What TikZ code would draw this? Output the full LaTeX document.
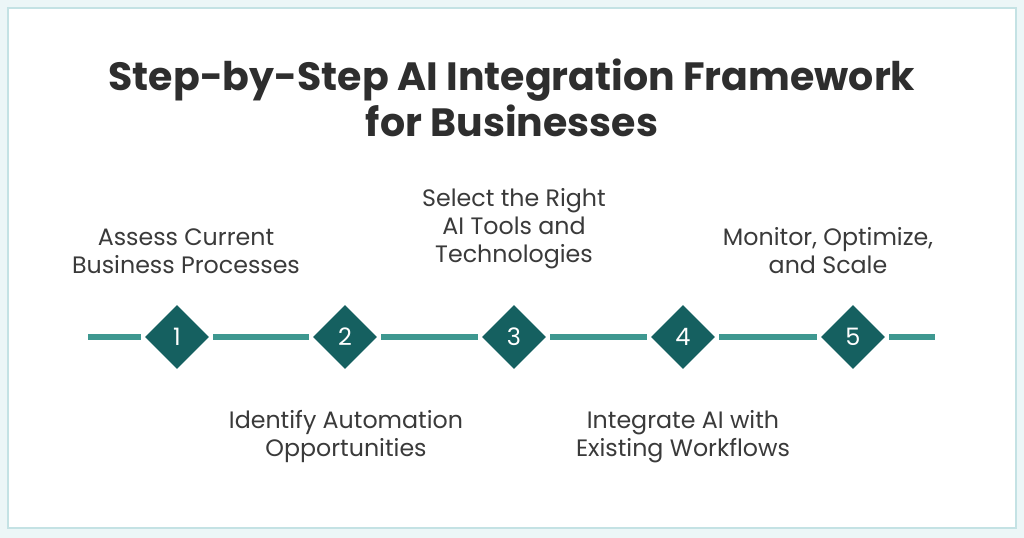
\documentclass[tikz,border=0pt]{standalone}
\usepackage{fontspec}
\setmainfont{Poppins}
\usetikzlibrary{shapes.geometric}
\definecolor{aiteal}{RGB}{62,152,144}
\definecolor{aidark}{RGB}{21,96,96}
\definecolor{aiframe}{RGB}{196,226,228}
\definecolor{aiback}{RGB}{236,246,247}
\definecolor{aitext}{RGB}{58,58,58}
\tikzstyle{stepbox} = [diamond, fill=aidark, text=white, inner sep=0pt, minimum width=48pt, minimum height=48pt, font=\fontsize{18}{18}\selectfont]
\tikzstyle{steptext} = [text=aitext, align=center, font=\fontsize{17.8}{21}\selectfont]
\tikzstyle{link} = [line width=3.8pt, color=aiteal]

\begin{document}
\begin{tikzpicture}[x=0.75pt, y=-0.75pt]
\useasboundingbox (0,0) rectangle (1024,538);
\fill[aiback] (0,0) rectangle (1024,538);
\draw[aiframe, fill=white, line width=1.2pt] (8,8) rectangle (1016,528);

% Title
\node[text=aitext!80!black, align=center, font=\fontsize{29.6}{35}\bfseries\selectfont] (title) at (512,98) {Step-by-Step AI Integration Framework\\for Businesses};

% Steps
\node[stepbox] (s1) at (177,337) {1};
\node[stepbox] (s2) at (345,337) {2};
\node[stepbox] (s3) at (514,337) {3};
\node[stepbox] (s4) at (683,337) {4};
\node[stepbox] (s5) at (853,337) {5};
\coordinate (lstart) at (88,337);
\coordinate (lend) at (935,337);

% Labels
\node[steptext] (l1) at (186,251) {Assess Current\\Business Processes};
\node[steptext] (l2) at (346,437) {Identify Automation\\Opportunities};
\node[steptext] (l3) at (514,229) {Select the Right\\AI Tools and\\Technologies};
\node[steptext] (l4) at (683,437) {Integrate AI with\\Existing Workflows};
\node[steptext] (l5) at (828,251) {Monitor, Optimize,\\and Scale};

% Connections
\draw[link, shorten >=3pt] (lstart) -- (s1);
\draw[link, shorten <=3pt, shorten >=3pt] (s1) -- (s2);
\draw[link, shorten <=3pt, shorten >=3pt] (s2) -- (s3);
\draw[link, shorten <=3pt, shorten >=3pt] (s3) -- (s4);
\draw[link, shorten <=3pt, shorten >=3pt] (s4) -- (s5);
\draw[link, shorten <=3pt] (s5) -- (lend);
\end{tikzpicture}
\end{document}
